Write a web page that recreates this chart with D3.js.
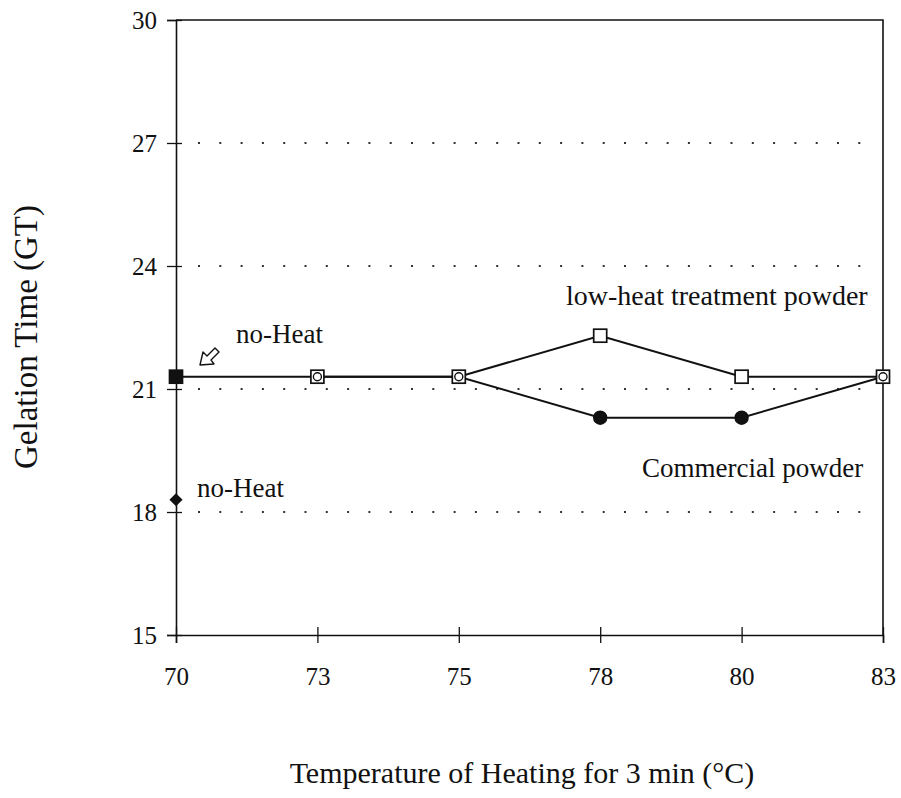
<!DOCTYPE html>
<html>
<head>
<meta charset="utf-8">
<script src="https://cdn.jsdelivr.net/npm/d3@7"></script>
<style>
  body { margin: 0; background: #fff; }
  text { font-family: "Liberation Serif", "DejaVu Serif", serif; fill: #111; }
</style>
</head>
<body>
<div id="chart"></div>
<script>
// data
const temps = ["70", "73", "75", "78", "80", "83"];
const yTicks = [15, 18, 21, 24, 27, 30];
const gridTicks = [18, 21, 24, 27];
const lowHeat = [21.3, 21.3, 21.3, 22.3, 21.3, 21.3];
const commercial = [null, 21.3, 21.3, 20.3, 20.3, 21.3];
const commercialNoHeat = 18.3;

const width = 901, height = 798;
const plotL = 176, plotR = 883, plotT = 20, plotB = 635;

const svg = d3.select("#chart").append("svg")
    .attr("width", width).attr("height", height);

const x = d3.scalePoint().domain(temps).range([plotL, plotR]);
const y = d3.scaleLinear().domain([15, 30]).range([plotB, plotT]);

// dotted grid lines
svg.append("g").selectAll("line").data(gridTicks).join("line")
    .attr("x1", plotL + 22).attr("x2", plotR - 10)
    .attr("y1", d => y(d)).attr("y2", d => y(d))
    .attr("stroke", "#333").attr("stroke-width", 1.8)
    .attr("stroke-dasharray", "2,19.3");

// frame: top and right sides
svg.append("path")
    .attr("d", `M${plotL},${plotT}H${plotR}V${plotB}`)
    .attr("fill", "none").attr("stroke", "#111").attr("stroke-width", 1.6);

// axes
const yAxis = svg.append("g").attr("transform", `translate(${plotL},0)`)
    .call(d3.axisLeft(y).tickValues(yTicks).tickSize(9));
yAxis.selectAll(".tick line").attr("x2", -9).attr("x1", 6);
yAxis.selectAll(".tick text").attr("x", -19).attr("dy", "0.35em");
const xAxis = svg.append("g").attr("transform", `translate(0,${plotB})`)
    .call(d3.axisBottom(x).tickSize(8));
xAxis.selectAll(".tick line").attr("y1", -8).attr("y2", 8);
xAxis.selectAll(".tick text").attr("y", 50).attr("dy", 0);
svg.selectAll(".domain").attr("stroke", "#111").attr("stroke-width", 1.6);
svg.selectAll(".tick line").attr("stroke", "#111").attr("stroke-width", 1.3);
svg.selectAll(".tick text").attr("font-size", 25)
    .style("font-family", "Liberation Serif").attr("fill", "#111");

// lines
const line = d3.line()
    .defined(d => d.v != null)
    .x(d => x(d.t)).y(d => y(d.v));
const lowPts = temps.map((t, i) => ({ t, v: lowHeat[i] }));
const comPts = temps.map((t, i) => ({ t, v: commercial[i] }));

svg.append("path").datum(comPts).attr("d", line)
    .attr("fill", "none").attr("stroke", "#111").attr("stroke-width", 2);
svg.append("path").datum(lowPts).attr("d", line)
    .attr("fill", "none").attr("stroke", "#111").attr("stroke-width", 2);

// low-heat markers: squares, first (no heat) filled
svg.append("g").selectAll("rect").data(lowPts).join("rect")
    .attr("x", d => x(d.t) - 6.5).attr("y", d => y(d.v) - 6.5)
    .attr("width", 13).attr("height", 13)
    .attr("fill", (d, i) => i === 0 ? "#111" : "#fff")
    .attr("stroke", "#111").attr("stroke-width", 1.7);

// commercial markers: circles, open where they sit on a square
const onSquare = d => lowHeat[temps.indexOf(d.t)] === d.v;
svg.append("g").selectAll("circle").data(comPts.filter(d => d.v != null)).join("circle")
    .attr("cx", d => x(d.t)).attr("cy", d => y(d.v))
    .attr("r", d => onSquare(d) ? 4 : 6.5)
    .attr("fill", d => onSquare(d) ? "none" : "#111")
    .attr("stroke", "#111").attr("stroke-width", 1.4);

// commercial no-heat diamond
svg.append("path")
    .attr("d", d3.symbol(d3.symbolDiamond2, 110)())
    .attr("transform", `translate(${x("70")},${y(commercialNoHeat)})`)
    .attr("fill", "#111");

// open arrow pointing down-left at the filled square
svg.append("path")
    .attr("d", "M200,365 L203,352 L207,356 L215,348 L219,352 L211,360 L214,364 Z")
    .attr("fill", "#fff").attr("stroke", "#111").attr("stroke-width", 1.4)
    .attr("stroke-linejoin", "round");

// annotations
svg.append("text").attr("x", 236).attr("y", 343).attr("font-size", 27).text("no-Heat");
svg.append("text").attr("x", 197).attr("y", 497).attr("font-size", 27).text("no-Heat");
svg.append("text").attr("x", 566).attr("y", 305).attr("font-size", 28).text("low-heat treatment powder");
svg.append("text").attr("x", 642).attr("y", 477).attr("font-size", 27).text("Commercial powder");

// axis titles
svg.append("text")
    .attr("transform", "translate(37,337) rotate(-90)")
    .attr("text-anchor", "middle").attr("font-size", 33)
    .text("Gelation Time (GT)");
svg.append("text")
    .attr("x", 522).attr("y", 783)
    .attr("text-anchor", "middle").attr("font-size", 30)
    .text("Temperature of Heating for 3 min (°C)");
</script>
</body>
</html>
